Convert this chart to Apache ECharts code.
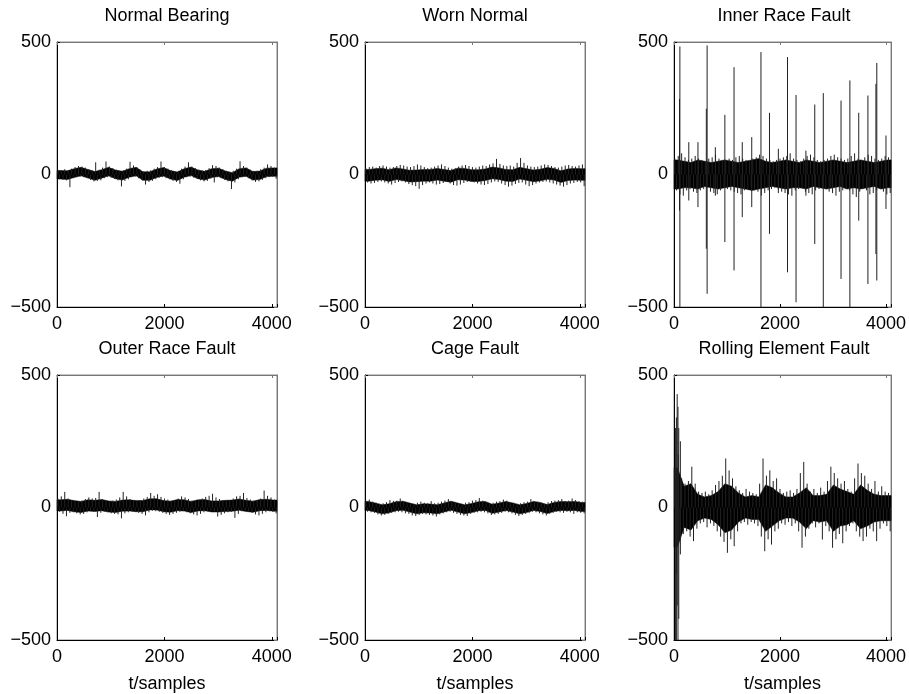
<!DOCTYPE html>
<html>
<head>
<meta charset="utf-8">
<script src="https://cdn.jsdelivr.net/npm/echarts@6/dist/echarts.min.js"></script>
<style>html,body{margin:0;padding:0;background:#fff}#c{width:909px;height:694px}</style>
</head>
<body>
<div id="c"></div>
<script>
// ---- data ----
var titles = ["Normal Bearing", "Worn Normal", "Inner Race Fault", "Outer Race Fault", "Cage Fault", "Rolling Element Fault"];
var xTicks = [0, 2000, 4000];
var yTicks = [-500, 0, 500];
var coreBin = 128;  // samples per bin of the dense core band (32 bins)
var peakBin = 64;   // samples per bin of the extreme excursions (64 bins)

// Normal Bearing
var coreHiNormal = [15,14,22,27,19,11,18,27,17,12,22,27,10,10,21,26,15,9,22,28,17,12,22,24,13,7,22,25,11,13,24,25];
var coreLoNormal = [-17,-19,-11,-5,-13,-22,-14,-5,-16,-21,-10,-5,-22,-22,-11,-6,-17,-23,-10,-4,-16,-21,-11,-8,-19,-25,-10,-7,-21,-19,-8,-7];
var hiNormal = [18,16,20,17,22,28,32,30,26,20,16,46,18,26,49,30,24,18,14,16,22,48,34,28,18,12,14,16,22,28,49,28,22,16,12,14,22,30,46,30,24,18,14,17,24,35,32,26,20,14,10,14,22,50,32,26,18,14,14,20,26,38,32,26];
var loNormal = [-18,-20,-22,-48,-14,-10,-8,-10,-14,-20,-26,-24,-22,-14,-10,-12,-16,-22,-45,-24,-18,-10,-8,-14,-22,-38,-28,-24,-18,-12,-10,-14,-18,-24,-28,-35,-18,-10,-8,-12,-16,-22,-26,-24,-16,-30,-10,-14,-20,-26,-55,-30,-18,-10,-8,-14,-22,-28,-26,-20,-14,-10,-8,-16];

// Worn Normal
var coreHiWorn = [19,22,24,18,25,21,16,17,19,19,23,19,15,24,23,18,18,21,28,25,19,18,27,22,17,20,26,23,14,21,23,22];
var coreLoWorn = [-25,-22,-20,-26,-19,-23,-28,-27,-25,-25,-21,-25,-29,-20,-21,-26,-26,-23,-16,-19,-25,-26,-17,-22,-27,-24,-18,-21,-30,-23,-21,-22];
var hiWorn = [24,28,30,26,32,34,30,26,28,32,36,34,30,28,32,38,34,28,24,26,30,34,38,32,26,22,24,30,34,36,32,28,26,30,34,32,38,42,59,40,34,32,34,30,44,62,44,34,30,28,30,34,38,36,32,28,26,30,34,36,32,30,34,38];
var loWorn = [-30,-34,-32,-28,-26,-30,-34,-38,-32,-28,-26,-30,-36,-40,-44,-54,-40,-34,-30,-34,-38,-36,-32,-28,-34,-40,-42,-38,-32,-28,-26,-30,-34,-38,-40,-36,-30,-26,-28,-34,-40,-46,-42,-36,-32,-30,-38,-44,-40,-34,-30,-28,-26,-30,-34,-38,-42,-46,-40,-34,-32,-28,-30,-44];

// Inner Race Fault (+ impulses [sample, peak, trough])
var coreHiInner = [55,50,45,55,50,45,50,55,50,45,50,55,60,50,45,50,55,50,45,55,50,45,50,55,50,45,50,55,50,45,50,55];
var coreLoInner = [-55,-50,-50,-55,-45,-50,-55,-50,-45,-50,-55,-60,-55,-50,-45,-50,-55,-50,-50,-55,-45,-50,-55,-50,-45,-55,-50,-55,-50,-45,-55,-50];
var hiInner = [60,70,80,65,55,60,70,60,55,50,60,65,75,60,55,50,60,55,65,70,60,55,50,60,65,75,70,60,55,50,55,60,65,70,80,60,55,50,60,70,75,65,55,50,55,60,70,75,65,60,55,60,70,80,60,55,65,75,70,60,55,60,70,65];
var loInner = [-60,-75,-80,-60,-55,-65,-70,-60,-55,-50,-65,-70,-75,-60,-50,-55,-60,-65,-70,-75,-60,-55,-50,-60,-65,-80,-70,-60,-55,-50,-55,-65,-70,-75,-80,-60,-55,-50,-65,-70,-75,-60,-55,-50,-55,-65,-70,-80,-65,-60,-55,-60,-75,-85,-65,-55,-60,-75,-70,-60,-55,-65,-75,-70];
var spikesInner = [[104,285,-136],[111,483,-500],[279,122,-98],[452,122,-123],[610,248,-280],[625,487,-450],[780,103,-80],[960,225,-255],[1133,405,-362],[1288,122,-161],[1467,141,-123],[1641,462,-500],[1802,233,-224],[1969,97,-70],[2142,443,-369],[2303,300,-482],[2489,90,-80],[2656,264,-262],[2817,307,-500],[2960,53,-50],[3152,279,-394],[3319,355,-500],[3486,233,-174],[3659,298,-413],[3810,342,-300],[3827,421,-400],[4000,147,-130]];

// Outer Race Fault
var coreHiOuter = [29,31,26,23,29,27,30,25,23,28,29,26,26,33,33,26,24,30,29,23,29,30,25,25,27,28,32,27,24,30,31,28];
var coreLoOuter = [-13,-11,-16,-19,-13,-15,-12,-17,-19,-14,-13,-16,-16,-9,-9,-16,-18,-12,-13,-19,-13,-12,-17,-17,-15,-14,-10,-15,-18,-12,-11,-14];
var hiOuter = [34,42,59,34,28,24,22,26,32,38,34,36,59,32,28,24,26,30,38,59,42,32,26,24,28,34,40,55,44,50,40,34,30,26,28,34,42,38,32,26,24,28,34,40,44,52,38,32,28,26,28,34,42,44,55,36,30,26,28,34,64,44,38,30];
var loOuter = [-16,-24,-33,-20,-18,-22,-26,-24,-18,-14,-16,-36,-20,-16,-18,-22,-24,-26,-41,-22,-18,-14,-16,-20,-24,-30,-18,-12,-14,-16,-20,-24,-28,-24,-20,-16,-14,-18,-22,-26,-30,-24,-18,-14,-12,-16,-34,-28,-22,-18,-16,-39,-24,-14,-12,-16,-20,-26,-30,-24,-18,-14,-16,-22];

// Cage Fault
var coreHiCage = [23,17,10,14,22,24,17,10,14,13,10,17,24,17,10,15,22,23,12,17,23,17,10,15,23,19,11,19,23,22,23,19];
var coreLoCage = [-11,-17,-24,-20,-12,-10,-17,-24,-20,-21,-24,-17,-10,-17,-24,-19,-12,-11,-22,-17,-11,-17,-24,-19,-11,-15,-23,-15,-11,-12,-11,-15];
var hiCage = [26,30,22,18,14,16,20,28,25,26,34,23,20,16,14,18,22,18,16,24,16,18,22,26,32,24,20,16,14,18,20,26,28,36,26,21,16,18,22,24,30,26,20,18,14,16,20,22,32,24,22,18,14,20,24,26,28,32,25,26,34,28,24,22];
var loCage = [-16,-18,-20,-26,-30,-28,-24,-20,-18,-16,-18,-22,-24,-30,-32,-28,-24,-26,-28,-30,-34,-26,-22,-18,-16,-20,-24,-28,-30,-32,-24,-20,-18,-16,-18,-22,-28,-26,-24,-20,-16,-18,-22,-28,-32,-28,-24,-20,-16,-18,-22,-26,-30,-24,-20,-16,-18,-20,-16,-18,-24,-18,-20,-22];

// Rolling Element Fault (+ initial transient [sample, peak, trough])
var coreHiRolling = [150,80,90,50,40,45,60,90,80,55,40,45,40,85,75,55,40,40,55,75,45,45,50,85,70,60,50,85,65,50,45,45];
var coreLoRolling = [-150,-75,-85,-50,-40,-45,-65,-95,-85,-55,-40,-45,-45,-90,-70,-50,-40,-40,-55,-80,-50,-55,-50,-90,-70,-65,-50,-80,-70,-55,-50,-50];
var hiRolling = [150,200,110,90,100,154,90,60,55,60,50,65,85,100,120,185,140,110,80,65,55,70,60,55,50,90,185,120,140,100,110,70,55,60,65,55,70,130,172,90,60,70,55,75,60,100,154,130,110,90,100,70,60,110,166,130,120,90,70,100,60,80,60,55];
var loRolling = [-250,-120,-100,-90,-110,-127,-80,-60,-55,-75,-60,-70,-90,-110,-130,-171,-120,-146,-90,-60,-55,-65,-55,-60,-70,-110,-165,-120,-140,-90,-80,-60,-65,-55,-70,-60,-90,-152,-110,-80,-60,-75,-60,-121,-70,-90,-152,-120,-100,-135,-90,-70,-60,-90,-110,-127,-110,-80,-90,-127,-80,-60,-70,-90];
var spikesRolling = [[30,300,-500],[45,340,-500],[60,428,-370],[75,380,-500],[90,300,-420],[120,250,-177]];

var panels = [
  {coreHi: coreHiNormal, coreLo: coreLoNormal, hi: hiNormal, lo: loNormal, spikes: []},
  {coreHi: coreHiWorn, coreLo: coreLoWorn, hi: hiWorn, lo: loWorn, spikes: []},
  {coreHi: coreHiInner, coreLo: coreLoInner, hi: hiInner, lo: loInner, spikes: spikesInner},
  {coreHi: coreHiOuter, coreLo: coreLoOuter, hi: hiOuter, lo: loOuter, spikes: []},
  {coreHi: coreHiCage, coreLo: coreLoCage, hi: hiCage, lo: loCage, spikes: []},
  {coreHi: coreHiRolling, coreLo: coreLoRolling, hi: hiRolling, lo: loRolling, spikes: spikesRolling}
];

// ---- layout ----
var lefts = [57, 365, 674], tops = [42, 375];
var W = 220, H = 265, XMAX = 4096;
var FONT = "'Liberation Sans', Arial, Helvetica, sans-serif";

function excursionData(p) {
  var d = [];
  for (var i = 0; i < p.hi.length; i++) {
    d.push([i * peakBin + peakBin * 0.25, p.hi[i], 0]);
    d.push([i * peakBin + peakBin * 0.75, 0, p.lo[i]]);
  }
  p.spikes.forEach(function (s) { d.push([s[0], s[1], s[2]]); });
  return d;
}

var grids = [], xAxes = [], yAxes = [], series = [];
panels.forEach(function (p, k) {
  var r = Math.floor(k / 3), c = k % 3;
  grids.push({left: lefts[c], top: tops[r], width: W, height: H, show: true, borderColor: '#888', borderWidth: 1});
  xAxes.push({
    gridIndex: k, type: 'value', min: 0, max: XMAX, interval: 2000, position: 'bottom',
    name: r === 1 ? 't/samples' : '', nameLocation: 'middle', nameGap: 35,
    nameTextStyle: {fontFamily: FONT, fontSize: 18, color: '#000'},
    axisLine: {show: true, onZero: false, lineStyle: {color: '#000', width: 1}},
    axisTick: {show: true, inside: true, length: 3, lineStyle: {color: '#000'}},
    axisLabel: {fontFamily: FONT, fontSize: 18, color: '#000', margin: 8,
      formatter: function (v) { return xTicks.indexOf(v) >= 0 ? String(v) : ''; }},
    splitLine: {show: false}
  });
  xAxes.push({
    gridIndex: k, type: 'value', min: 0, max: XMAX, interval: 2000, position: 'top',
    axisLine: {show: true, onZero: false, lineStyle: {color: '#777', width: 1}},
    axisTick: {show: true, inside: true, length: 3, lineStyle: {color: '#777'}},
    axisLabel: {show: false}, splitLine: {show: false}
  });
  yAxes.push({
    gridIndex: k, type: 'value', min: -500, max: 500, interval: 500, position: 'left',
    axisLine: {show: true, onZero: false, lineStyle: {color: '#000', width: 1}},
    axisTick: {show: true, inside: true, length: 3, lineStyle: {color: '#000'}},
    axisLabel: {fontFamily: FONT, fontSize: 18, color: '#000', margin: 6,
      formatter: function (v) { return yTicks.indexOf(v) >= 0 ? (v < 0 ? '\u2212' + (-v) : String(v)) : ''; }},
    splitLine: {show: false}
  });
  yAxes.push({
    gridIndex: k, type: 'value', min: -500, max: 500, interval: 500, position: 'right',
    axisLine: {show: true, onZero: false, lineStyle: {color: '#777', width: 1}},
    axisTick: {show: true, inside: true, length: 3, lineStyle: {color: '#777'}},
    axisLabel: {show: false}, splitLine: {show: false}
  });
  // dense core band of the vibration signal
  series.push({
    type: 'custom', xAxisIndex: 2 * k, yAxisIndex: 2 * k, animation: false, silent: true,
    data: [[0, 0]],
    renderItem: (function (pp) {
      return function (params, api) {
        var pts = [], i, n = pp.coreHi.length;
        pts.push(api.coord([0, pp.coreHi[0]]));
        for (i = 0; i < n; i++) pts.push(api.coord([i * coreBin + coreBin * 0.5, pp.coreHi[i]]));
        pts.push(api.coord([XMAX, pp.coreHi[n - 1]]));
        pts.push(api.coord([XMAX, pp.coreLo[n - 1]]));
        for (i = n - 1; i >= 0; i--) pts.push(api.coord([i * coreBin + coreBin * 0.5, pp.coreLo[i]]));
        pts.push(api.coord([0, pp.coreLo[0]]));
        return {type: 'polygon', shape: {points: pts}, style: {fill: '#000', stroke: '#000', lineWidth: 0.5}};
      };
    })(p)
  });
  // excursions / impulses as thin vertical strokes
  series.push({
    type: 'custom', xAxisIndex: 2 * k, yAxisIndex: 2 * k, animation: false, silent: true,
    data: excursionData(p),
    encode: {x: 0, y: [1, 2]},
    renderItem: function (params, api) {
      var a = api.coord([api.value(0), api.value(1)]);
      var b = api.coord([api.value(0), api.value(2)]);
      return {type: 'line', shape: {x1: a[0], y1: a[1], x2: b[0], y2: b[1]},
        style: {stroke: '#222', lineWidth: 1}};
    }
  });
});

var chart = echarts.init(document.getElementById('c'), null, {renderer: 'canvas'});
chart.setOption({
  animation: false,
  backgroundColor: '#fff',
  grid: grids, xAxis: xAxes, yAxis: yAxes, series: series,
  graphic: titles.map(function (t, k) {
    var r = Math.floor(k / 3), c = k % 3;
    return {
      type: 'text', x: lefts[c] + W / 2, y: tops[r] - 26,
      style: {text: t, font: '18px ' + FONT, fill: '#000', textAlign: 'center', textVerticalAlign: 'middle'}
    };
  })
});
</script>
</body>
</html>
